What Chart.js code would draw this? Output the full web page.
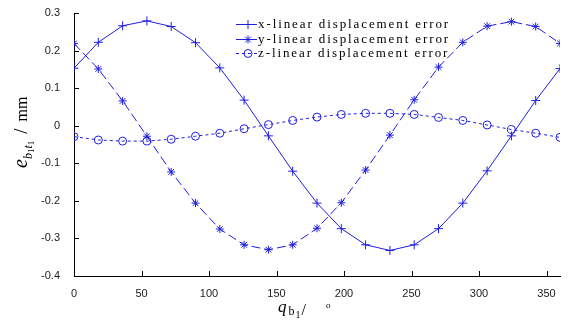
<!DOCTYPE html>
<html>
<head>
<meta charset="utf-8">
<script src="https://cdn.jsdelivr.net/npm/chart.js@4"></script>
<style>
  html, body { margin: 0; padding: 0; background: #fff; }
  #wrap { width: 570px; height: 324px; }
</style>
</head>
<body>
<div id="wrap"><canvas id="errChart" width="570" height="324"></canvas></div>
<script>
// angle of joint b1 (deg)
const angles = [0, 18, 36, 54, 72, 90, 108, 126, 144, 162, 180, 198, 216, 234, 252, 270, 288, 306, 324, 342, 360];
const xError = [0.153, 0.222, 0.266, 0.279, 0.264, 0.221, 0.154, 0.068, -0.027, -0.121, -0.206, -0.274, -0.317, -0.332, -0.317, -0.274, -0.206, -0.120, -0.027, 0.067, 0.152];
const yError = [0.219, 0.151, 0.066, -0.028, -0.123, -0.206, -0.275, -0.317, -0.330, -0.317, -0.273, -0.205, -0.118, -0.025, 0.069, 0.156, 0.222, 0.265, 0.277, 0.264, 0.219];
const zError = [-0.029, -0.038, -0.041, -0.041, -0.036, -0.028, -0.020, -0.008, 0.003, 0.014, 0.023, 0.030, 0.033, 0.033, 0.030, 0.022, 0.014, 0.002, -0.010, -0.020, -0.031];
const seriesLabels = ['x-linear displacement error', 'y-linear displacement error', 'z-linear displacement error'];
const xTicks = [0, 50, 100, 150, 200, 250, 300, 350];

const blue = 'rgb(30,30,225)';

function pts(vals) {
    return angles.map((a, i) => ({ x: a, y: vals[i] }));
}

// inward ticks, legend and axis titles (MATLAB look)
const decorPlugin = {
    id: 'decor',
    afterDraw(chart) {
        const ctx = chart.ctx;
        const xs = chart.scales.x, ys = chart.scales.y;
        const area = chart.chartArea;
        ctx.save();
        ctx.strokeStyle = '#000';
        ctx.lineWidth = 1;
        ctx.beginPath();
        xs.ticks.forEach(t => {
            const px = Math.round(xs.getPixelForValue(t.value)) + 0.5;
            ctx.moveTo(px, area.bottom);
            ctx.lineTo(px, area.bottom - 5);
        });
        ys.ticks.forEach(t => {
            const py = Math.round(ys.getPixelForValue(t.value)) + 0.5;
            ctx.moveTo(area.left, py);
            ctx.lineTo(area.left + 5, py);
        });
        ctx.stroke();

        // legend
        const rows = [24, 39, 53];
        chart.data.datasets.forEach((ds, i) => {
            const y = rows[i] + 0.5;
            ctx.strokeStyle = ds.borderColor;
            ctx.lineWidth = 1;
            ctx.setLineDash(ds.borderDash || []);
            ctx.beginPath();
            ctx.moveTo(236, y);
            ctx.lineTo(257, y);
            ctx.stroke();
            ctx.setLineDash([]);
            ctx.fillStyle = ds.pointBackgroundColor || ds.borderColor;
            ctx.strokeStyle = ds.borderColor;
            ctx.lineWidth = ds.pointBorderWidth;
            Chart.helpers.drawPoint(ctx, {
                pointStyle: ds.pointStyle,
                radius: ds.pointRadius,
                borderWidth: ds.pointBorderWidth,
                rotation: 0
            }, 248, y);
            ctx.fillStyle = '#000';
            ctx.font = '13px "Liberation Serif"';
            ctx.letterSpacing = '1.9px';
            ctx.textBaseline = 'middle';
            ctx.textAlign = 'left';
            ctx.fillText(ds.label, 258, y);
            ctx.letterSpacing = '0px';
        });

        // x title: q_b1 / °
        ctx.fillStyle = '#000';
        ctx.textBaseline = 'alphabetic';
        let x = 278, base = 312;
        ctx.font = 'italic 17px "Liberation Serif"';
        ctx.fillText('q', x, base); x += ctx.measureText('q').width + 2;
        ctx.font = '12px "Liberation Serif"';
        ctx.fillText('b', x, base + 3); x += ctx.measureText('b').width + 1;
        ctx.font = '10px "Liberation Serif"';
        ctx.fillText('1', x, base + 6); x += ctx.measureText('1').width + 1;
        ctx.font = '16px "Liberation Serif"';
        ctx.fillText('/', x, base + 3); x += ctx.measureText('/').width + 20;
        ctx.font = '9px "Liberation Serif"';
        ctx.fillText('o', x, base - 4);

        // y title: e_b1t1 / mm (rotated)
        ctx.translate(27, 168);
        ctx.rotate(-Math.PI / 2);
        x = 0; base = 0;
        ctx.font = 'italic 20px "Liberation Serif"';
        ctx.fillText('e', x, base); x += ctx.measureText('e').width;
        ctx.font = 'italic 12px "Liberation Serif"';
        ctx.fillText('b', x, base + 5); x += ctx.measureText('b').width;
        ctx.font = '9px "Liberation Serif"';
        ctx.fillText('1', x, base + 7); x += ctx.measureText('1').width;
        ctx.font = 'italic 12px "Liberation Serif"';
        ctx.fillText('t', x, base + 5); x += ctx.measureText('t').width;
        ctx.font = '9px "Liberation Serif"';
        ctx.fillText('1', x, base + 7); x += ctx.measureText('1').width + 7;
        ctx.font = '19px "Liberation Serif"';
        ctx.fillText('/', x, base); x += ctx.measureText('/').width + 7;
        ctx.font = '16px "Liberation Serif"';
        ctx.fillText('mm', x, base);
        ctx.restore();
    }
};

const ctx = document.getElementById('errChart').getContext('2d');
const errChart = new Chart(ctx, {
    type: 'line',
    data: {
        datasets: [{
            label: seriesLabels[0],
            data: pts(xError),
            borderColor: blue,
            borderWidth: 1,
            pointStyle: 'cross',
            pointRadius: 4.5,
            pointBorderWidth: 1,
            pointBorderColor: blue,
            fill: false,
            tension: 0
        }, {
            label: seriesLabels[1],
            data: pts(yError),
            borderColor: blue,
            borderWidth: 1,
            borderDash: [9, 4],
            pointStyle: 'star',
            pointRadius: 4,
            pointBorderWidth: 1,
            pointBorderColor: blue,
            fill: false,
            tension: 0
        }, {
            label: seriesLabels[2],
            data: pts(zError),
            borderColor: blue,
            borderWidth: 1,
            borderDash: [3, 3],
            pointStyle: 'circle',
            pointRadius: 4,
            pointBorderWidth: 1,
            pointBorderColor: blue,
            pointBackgroundColor: 'rgba(0,0,0,0)',
            fill: false,
            tension: 0
        }]
    },
    options: {
        responsive: false,
        animation: false,
        layout: { padding: { left: 0, right: 10, top: 13, bottom: 0 } },
        plugins: {
            legend: { display: false },
            tooltip: { enabled: false }
        },
        scales: {
            x: {
                type: 'linear',
                min: 0,
                max: 360,
                afterFit(scale) { scale.height = 48; },
                afterBuildTicks(scale) { scale.ticks = xTicks.map(v => ({ value: v })); },
                grid: { display: false },
                border: { display: true, color: '#000', width: 1 },
                ticks: {
                    color: '#222',
                    padding: 3,
                    maxRotation: 0,
                    font: { family: 'Liberation Sans', size: 11 }
                }
            },
            y: {
                min: -0.4,
                max: 0.3,
                afterFit(scale) { scale.width = 74; },
                grid: { display: false },
                border: { display: true, color: '#000', width: 1 },
                ticks: {
                    stepSize: 0.1,
                    color: '#222',
                    padding: 6,
                    font: { family: 'Liberation Sans', size: 11 },
                    callback: v => String(Math.round(v * 10) / 10)
                }
            }
        }
    },
    plugins: [decorPlugin]
});
</script>
</body>
</html>
